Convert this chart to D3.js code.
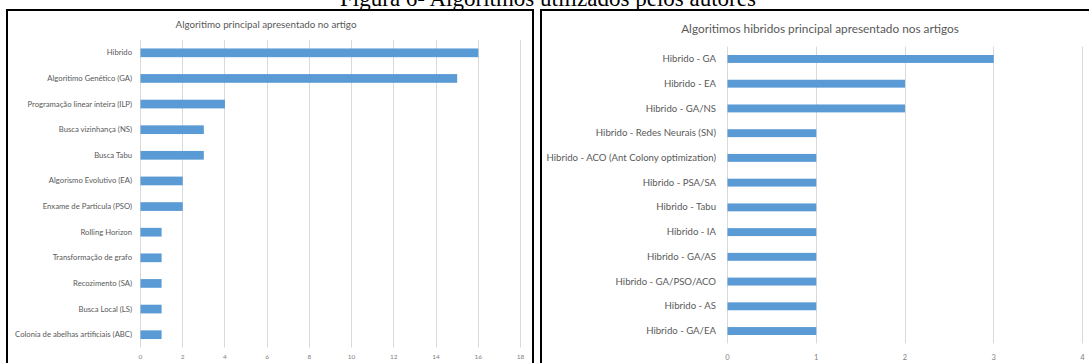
<!DOCTYPE html>
<html><head><meta charset="utf-8">
<script src="https://cdn.jsdelivr.net/npm/d3@7"></script>
<style>html,body{margin:0;padding:0;background:#fff;}svg{display:block;}</style>
</head><body>
<script>
const figureTitle = "Figura 6- Algoritmos utilizados pelos autores";

const leftTitle = "Algoritimo principal apresentado no artigo";
const leftCategories = ["Hibrido","Algoritimo Genético (GA)","Programação linear inteira (ILP)","Busca vizinhança (NS)","Busca Tabu","Algorismo Evolutivo (EA)","Enxame de Particula (PSO)","Rolling Horizon","Transformação de grafo","Recozimento (SA)","Busca Local (LS)","Colonia de abelhas artificiais (ABC)"];
const leftValues = [16,15,4,3,3,2,2,1,1,1,1,1];
const leftTicks = [0,2,4,6,8,10,12,14,16,18];

const rightTitle = "Algoritimos hibridos principal apresentado nos artigos";
const rightCategories = ["Hibrido - GA","Hibrido - EA","Hibrido - GA/NS","Hibrido - Redes Neurais (SN)","Hibrido - ACO (Ant Colony optimization)","Hibrido - PSA/SA","Hibrido - Tabu","Hibrido - IA","Hibrido - GA/AS","Hibrido - GA/PSO/ACO","Hibrido - AS","Hibrido - GA/EA"];
const rightValues = [3,2,2,1,1,1,1,1,1,1,1,1];
const rightTicks = [0,1,2,3,4];

const W = 1089, H = 363;
const svg = d3.select("body").append("svg").attr("width", W).attr("height", H);
svg.append("rect").attr("width", W).attr("height", H).attr("fill", "#fff");

const FONT = "Lato, 'Open Sans', sans-serif";
const GREY = "#595959";
const BAR = "#5B9BD5";
const GRID = "#D9D9D9";

// Figure caption (cut at top, as in the reference)
svg.append("text").attr("x", 548).attr("y", 6)
  .attr("text-anchor", "middle")
  .attr("font-family", "'Liberation Serif', 'DejaVu Serif', serif")
  .attr("font-size", 23).attr("fill", "#000")
  .text(figureTitle);

function drawChart(cfg) {
  const g = svg.append("g");
  const x = d3.scaleLinear().domain(cfg.domain).range(cfg.xRange);
  const y = d3.scaleBand().domain(cfg.categories).range(cfg.yRange)
    .paddingInner(cfg.padIn).paddingOuter(cfg.padIn / 2);

  g.selectAll("line.grid").data(cfg.ticks).join("line")
    .attr("x1", d => Math.round(x(d)) + 0.5).attr("x2", d => Math.round(x(d)) + 0.5)
    .attr("y1", cfg.yRange[0]).attr("y2", cfg.yRange[1])
    .attr("stroke", GRID).attr("stroke-width", 1);

  g.selectAll("rect.bar").data(cfg.values).join("rect")
    .attr("x", x(0) + 0.5)
    .attr("y", (d, i) => y(cfg.categories[i]))
    .attr("width", d => x(d) - x(0))
    .attr("height", y.bandwidth())
    .attr("fill", BAR);

  const xAxis = d3.axisBottom(x).tickValues(cfg.ticks).tickFormat(d3.format("d"))
    .tickSize(0).tickPadding(0);
  const ax = g.append("g").attr("transform", `translate(0,${cfg.tickY})`).call(xAxis);
  ax.select(".domain").remove();
  ax.selectAll("text").attr("font-family", FONT).attr("font-size", cfg.tickFont)
    .attr("fill", "#7f7f7f").attr("dy", "0.35em").attr("y", 0);

  const yAxis = d3.axisLeft(y).tickSize(0).tickPadding(0);
  const ay = g.append("g").attr("transform", `translate(${cfg.labelX},0)`).call(yAxis);
  ay.select(".domain").remove();
  ay.selectAll("text").attr("font-family", FONT).attr("font-size", cfg.labelFont)
    .attr("fill", GREY).attr("x", 0);

  g.append("text").attr("x", cfg.titleX).attr("y", cfg.titleY)
    .attr("text-anchor", "middle").attr("dy", "0.35em")
    .attr("font-family", FONT).attr("font-size", cfg.titleFont).attr("fill", GREY)
    .text(cfg.title);
}

drawChart({
  title: leftTitle, categories: leftCategories, values: leftValues, ticks: leftTicks,
  domain: [0, 18], xRange: [140, 520], yRange: [40, 347.5], padIn: 0.66,
  tickY: 357, tickFont: 6.5, labelX: 132, labelFont: 7.7,
  titleX: 266, titleY: 25, titleFont: 9.8
});

drawChart({
  title: rightTitle, categories: rightCategories, values: rightValues, ticks: rightTicks,
  domain: [0, 4], xRange: [727, 1082], yRange: [46.6, 343.4], padIn: 0.68,
  tickY: 357, tickFont: 7.5, labelX: 716, labelFont: 9.6,
  titleX: 820, titleY: 29, titleFont: 11.8
});

svg.append("rect").attr("x", 7).attr("y", 10).attr("width", 526).attr("height", 400)
  .attr("fill", "none").attr("stroke", "#000").attr("stroke-width", 2);
svg.append("rect").attr("x", 541).attr("y", 10).attr("width", 600).attr("height", 400)
  .attr("fill", "none").attr("stroke", "#000").attr("stroke-width", 2);
</script>
</body></html>
